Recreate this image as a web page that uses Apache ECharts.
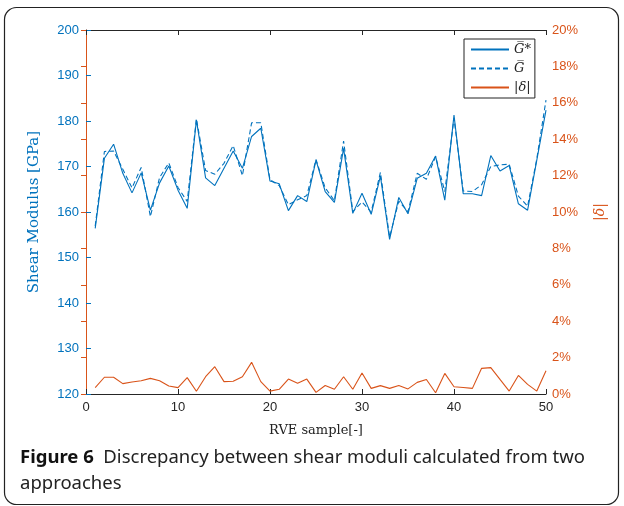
<!DOCTYPE html>
<html>
<head>
<meta charset="utf-8">
<script src="https://cdn.jsdelivr.net/npm/echarts@6.0.0/dist/echarts.min.js"></script>
<style>
  html, body { margin: 0; padding: 0; background: #fff; }
  #main { width: 624px; height: 506px; }
</style>
</head>
<body>
<div id="main"></div>
<script>
// RVE sample index
var samples = [];
for (var k = 1; k <= 50; k++) samples.push(k);

// G* (solid), GPa
var gStar = [156.4, 171.8, 174.9, 168.5, 164.2, 168.6, 160.4, 166.4, 170.1, 164.8,
  160.8, 180.2, 167.5, 165.8, 169.6, 173.4, 169.6, 176.6, 178.4, 166.8,
  166.2, 160.3, 163.6, 162.3, 171.4, 164.5, 162.1, 174.0, 159.7, 164.1,
  159.5, 167.9, 154.0, 163.2, 159.6, 167.4, 168.5, 172.3, 162.6, 181.3,
  164.0, 164.0, 163.6, 172.4, 169.0, 170.2, 161.8, 160.4, 171.4, 182.4];

// G (dashed), GPa
var gBar = [156.9, 173.3, 173.4, 169.4, 165.3, 169.8, 159.0, 167.6, 170.8, 165.4,
  162.3, 180.5, 169.1, 168.3, 170.7, 174.6, 168.0, 179.6, 179.6, 167.1,
  165.8, 161.6, 162.7, 163.6, 171.55, 165.3, 162.5, 175.6, 160.1, 162.2,
  160.0, 168.7, 154.5, 162.4, 160.05, 168.5, 167.2, 172.2, 164.5, 180.6,
  164.6, 164.5, 166.0, 170.0, 170.35, 170.5, 163.5, 161.25, 171.7, 184.6];

// |delta|, %
var delta = [0.35, 0.92, 0.92, 0.57, 0.66, 0.73, 0.86, 0.73, 0.44, 0.35,
  0.90, 0.15, 0.95, 1.50, 0.68, 0.70, 0.95, 1.74, 0.68, 0.16,
  0.26, 0.82, 0.59, 0.82, 0.09, 0.47, 0.26, 0.95, 0.26, 1.15,
  0.31, 0.46, 0.31, 0.47, 0.28, 0.64, 0.80, 0.07, 1.13, 0.40,
  0.36, 0.31, 1.41, 1.45, 0.80, 0.16, 1.02, 0.53, 0.16, 1.28];

var blue = "#0072BD";
var orange = "#D95319";

function pairs(ys) {
  return samples.map(function (x, i) { return [x, ys[i]]; });
}

var chart = echarts.init(document.getElementById("main"), null, { renderer: "canvas" });

var option = {
  animation: false,
  backgroundColor: "#fff",
  grid: { left: 86, right: 78, top: 30, bottom: 112 },
  title: {
    left: 15,
    top: 440,
    text: "{b|Figure 6}  Discrepancy between shear moduli calculated from two\napproaches",
    textStyle: {
      fontFamily: "Noto Sans",
      fontSize: 18.5,
      fontWeight: "normal",
      color: "#222",
      lineHeight: 26,
      rich: {
        b: { fontFamily: "Noto Sans", fontSize: 18.5, fontWeight: "bold", color: "#111", lineHeight: 26 }
      }
    }
  },
  graphic: [
    {
      type: "rect",
      z: -1,
      shape: { x: 4.5, y: 7.5, width: 614, height: 497, r: 12 },
      style: { fill: "none", stroke: "#222", lineWidth: 1.2 }
    }
  ],
  legend: {
    orient: "vertical",
    left: 464,
    top: 39,
    itemWidth: 38,
    itemHeight: 10,
    itemGap: 6,
    padding: [4, 4, 4, 6],
    backgroundColor: "#fff",
    borderColor: "#222",
    borderWidth: 1,
    itemStyle: { opacity: 0 },
    textStyle: { fontFamily: "DejaVu Serif", fontStyle: "italic", fontSize: 13, color: "#222" },
    data: ["G\u0305*", "G\u0305", "|\u03b4|"]
  },
  xAxis: [
    {
      type: "value",
      min: 0,
      max: 50,
      interval: 10,
      name: "RVE sample[-]",
      nameLocation: "middle",
      nameGap: 30,
      nameTextStyle: { fontFamily: "DejaVu Serif", fontSize: 13, color: "#222" },
      axisLine: { lineStyle: { color: "#262626", width: 1 } },
      axisTick: { inside: true, length: 5, lineStyle: { color: "#262626" } },
      axisLabel: { fontFamily: "Liberation Sans", fontSize: 13, color: "#262626", margin: 7 },
      splitLine: { show: false }
    },
    {
      type: "value",
      position: "top",
      min: 0,
      max: 50,
      interval: 10,
      axisLine: { lineStyle: { color: "#262626", width: 1 } },
      axisTick: { inside: true, length: 5, lineStyle: { color: "#262626" } },
      axisLabel: { show: false },
      splitLine: { show: false }
    }
  ],
  yAxis: [
    {
      type: "value",
      min: 120,
      max: 200,
      interval: 10,
      name: "Shear Modulus [GPa]",
      nameLocation: "middle",
      nameGap: 44,
      nameTextStyle: { fontFamily: "DejaVu Serif", fontSize: 15, color: blue },
      axisLine: { show: true, lineStyle: { color: blue, width: 1 } },
      axisTick: { show: true, inside: true, length: 5, lineStyle: { color: blue } },
      axisLabel: { fontFamily: "Liberation Sans", fontSize: 13, color: blue, margin: 7 },
      splitLine: { show: false }
    },
    {
      type: "value",
      position: "right",
      min: 0,
      max: 20,
      interval: 2,
      name: "|\u03b4|",
      nameLocation: "middle",
      nameGap: 47,
      nameRotate: 90,
      nameTextStyle: { fontFamily: "DejaVu Serif", fontStyle: "italic", fontSize: 14, color: orange },
      axisLine: { show: true, lineStyle: { color: orange, width: 1 } },
      axisTick: { show: true, inside: true, length: 5, lineStyle: { color: orange } },
      axisLabel: { fontFamily: "Liberation Sans", fontSize: 13, color: orange, margin: 6, formatter: "{value}%" },
      splitLine: { show: false }
    }
  ],
  series: [
    {
      name: "G\u0305*",
      type: "line",
      yAxisIndex: 0,
      symbol: "none",
      lineStyle: { color: blue, width: 1.1 },
      itemStyle: { color: blue },
      data: pairs(gStar)
    },
    {
      name: "G\u0305",
      type: "line",
      yAxisIndex: 0,
      symbol: "none",
      lineStyle: { color: blue, width: 1.1, type: [5, 3] },
      itemStyle: { color: blue },
      data: pairs(gBar)
    },
    {
      name: "|\u03b4|",
      type: "line",
      yAxisIndex: 1,
      symbol: "none",
      lineStyle: { color: orange, width: 1.1 },
      itemStyle: { color: orange },
      data: pairs(delta)
    }
  ]
};

chart.setOption(option);
</script>
</body>
</html>
